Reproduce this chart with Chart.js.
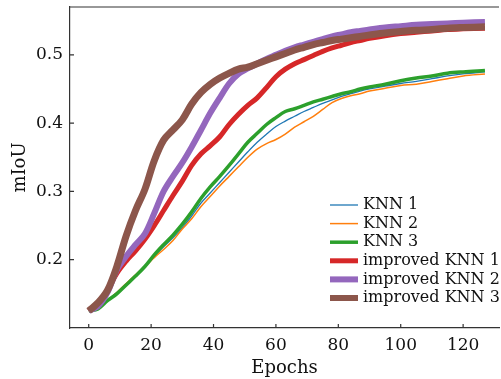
<!DOCTYPE html>
<html>
<head>
<meta charset="utf-8">
<script src="https://cdn.jsdelivr.net/npm/chart.js@4"></script>
<style>
  html, body { margin: 0; padding: 0; background: #fff; }
  #wrap { width: 501px; height: 379px; }
</style>
</head>
<body>
<div id="wrap"><canvas id="lineChart"></canvas></div>
<script>
var epochs = [0,3,6,9,12,15,18,21,24,27,30,33,36,39,42,45,48,51,54,57,60,63,66,69,72,75,78,81,84,87,90,95,100,105,110,115,120,127];

var knn1 = [0.125,0.130,0.141,0.152,0.164,0.177,0.190,0.205,0.219,0.232,0.247,0.264,0.283,0.298,0.313,0.328,0.343,0.358,0.372,0.384,0.395,0.403,0.410,0.417,0.423,0.429,0.434,0.439,0.443,0.447,0.450,0.454,0.458,0.461,0.465,0.469,0.472,0.475];
var knn2 = [0.125,0.130,0.140,0.152,0.165,0.178,0.190,0.203,0.215,0.228,0.245,0.260,0.278,0.293,0.308,0.322,0.336,0.350,0.362,0.370,0.376,0.384,0.394,0.402,0.410,0.420,0.430,0.436,0.440,0.443,0.447,0.451,0.455,0.457,0.461,0.465,0.469,0.472];
var knn3 = [0.125,0.128,0.140,0.150,0.163,0.176,0.190,0.207,0.222,0.236,0.252,0.270,0.290,0.307,0.322,0.338,0.355,0.372,0.385,0.398,0.408,0.417,0.421,0.426,0.431,0.435,0.439,0.443,0.446,0.450,0.453,0.457,0.462,0.466,0.469,0.473,0.475,0.477];
var impKnn1 = [0.125,0.135,0.155,0.180,0.198,0.213,0.230,0.250,0.272,0.294,0.315,0.338,0.355,0.367,0.380,0.398,0.413,0.426,0.437,0.452,0.468,0.479,0.487,0.493,0.499,0.505,0.510,0.514,0.518,0.521,0.524,0.528,0.531,0.533,0.535,0.537,0.538,0.539];
var impKnn2 = [0.125,0.132,0.152,0.185,0.205,0.222,0.238,0.268,0.300,0.322,0.342,0.365,0.390,0.415,0.437,0.458,0.472,0.480,0.487,0.494,0.500,0.506,0.511,0.515,0.519,0.523,0.527,0.530,0.533,0.535,0.537,0.540,0.542,0.544,0.545,0.546,0.547,0.548];
var impKnn3 = [0.125,0.137,0.155,0.190,0.235,0.272,0.303,0.345,0.375,0.390,0.405,0.428,0.445,0.457,0.466,0.473,0.479,0.482,0.487,0.492,0.497,0.502,0.507,0.511,0.515,0.518,0.521,0.523,0.525,0.527,0.529,0.532,0.534,0.536,0.537,0.539,0.540,0.541];

var seriesNames = ['KNN 1', 'KNN 2', 'KNN 3', 'improved KNN 1', 'improved KNN 2', 'improved KNN 3'];
var seriesData = [knn1, knn2, knn3, impKnn1, impKnn2, impKnn3];
var colors = ['#1f77b4', '#ff7f0e', '#2ca02c', '#d62728', '#9467bd', '#8c564b'];
var widths = [1.3, 1.5, 3.5, 5, 6, 7];

var xTicks = [0, 20, 40, 60, 80, 100, 120];
var yTicks = [0.2, 0.3, 0.4, 0.5];

var serif = "'DejaVu Serif', 'Liberation Serif', serif";
var axisColor = '#333';

var datasets = seriesData.map(function (vals, i) {
    return {
        label: seriesNames[i],
        data: vals.map(function (v, j) { return { x: epochs[j], y: v }; }),
        borderColor: colors[i],
        backgroundColor: colors[i],
        borderWidth: widths[i],
        pointRadius: 0,
        tension: 0.35,
        order: seriesData.length - i
    };
});

// inward tick marks, top frame line and legend box
var framePlugin = {
    id: 'frame',
    afterDraw: function (chart) {
        var ctx = chart.ctx;
        var a = chart.chartArea;
        var xs = chart.scales.x, ys = chart.scales.y;
        ctx.save();
        ctx.strokeStyle = axisColor;
        ctx.lineWidth = 1.2;
        ctx.beginPath();
        ctx.moveTo(a.left, a.top);
        ctx.lineTo(a.right, a.top);
        xTicks.forEach(function (t) {
            var px = xs.getPixelForValue(t);
            ctx.moveTo(px, a.bottom);
            ctx.lineTo(px, a.bottom - 4);
        });
        yTicks.forEach(function (t) {
            var py = ys.getPixelForValue(t);
            ctx.moveTo(a.left, py);
            ctx.lineTo(a.left + 4, py);
        });
        ctx.stroke();

        // legend
        var lx0 = a.right - 169, lx1 = a.right - 141, tx = a.right - 136;
        var ty = a.top + 198, step = 18.6;
        ctx.font = '16px ' + serif;
        ctx.textBaseline = 'middle';
        ctx.fillStyle = '#111';
        chart.data.datasets.forEach(function (ds, i) {
            var y = ty + i * step;
            ctx.strokeStyle = ds.borderColor;
            ctx.lineWidth = Math.min(ds.borderWidth, 6);
            ctx.beginPath();
            ctx.moveTo(lx0, y);
            ctx.lineTo(lx1, y);
            ctx.stroke();
            ctx.fillText(ds.label, tx, y);
        });
        ctx.restore();
    }
};

var ctx = document.getElementById('lineChart').getContext('2d');
var myChart = new Chart(ctx, {
    type: 'line',
    data: { datasets: datasets },
    options: {
        responsive: true,
        maintainAspectRatio: false,
        animation: false,
        layout: { padding: { top: 7, right: 2, left: 0, bottom: 0 } },
        plugins: {
            legend: { display: false },
            tooltip: { enabled: false }
        },
        scales: {
            x: {
                type: 'linear',
                min: -6,
                max: 131.5,
                afterBuildTicks: function (axis) {
                    axis.ticks = xTicks.map(function (v) { return { value: v }; });
                },
                afterFit: function (axis) {
                    axis.height = 51;
                    axis.paddingLeft = 0;
                    axis.paddingRight = 0;
                },
                grid: { display: false, drawTicks: false },
                border: { color: axisColor, width: 1.2 },
                ticks: { color: '#111', padding: 7, font: { family: serif, size: 17 } },
                title: {
                    display: true,
                    text: 'Epochs',
                    color: '#111',
                    padding: { top: 0, bottom: 0 },
                    font: { family: serif, size: 18 }
                }
            },
            y: {
                type: 'linear',
                min: 0.1,
                max: 0.57,
                afterBuildTicks: function (axis) {
                    axis.ticks = yTicks.map(function (v) { return { value: v }; });
                },
                afterFit: function (axis) {
                    axis.width = 70;
                    axis.paddingTop = 0;
                    axis.paddingBottom = 0;
                },
                grid: { display: false, drawTicks: false },
                border: { color: axisColor, width: 1.2 },
                ticks: {
                    color: '#111',
                    padding: 7,
                    font: { family: serif, size: 17 },
                    callback: function (v) { return v.toFixed(1); }
                },
                title: {
                    display: true,
                    text: 'mIoU',
                    color: '#111',
                    padding: { top: 10, bottom: 0 },
                    font: { family: serif, size: 18 }
                }
            }
        }
    },
    plugins: [framePlugin]
});
</script>
</body>
</html>
